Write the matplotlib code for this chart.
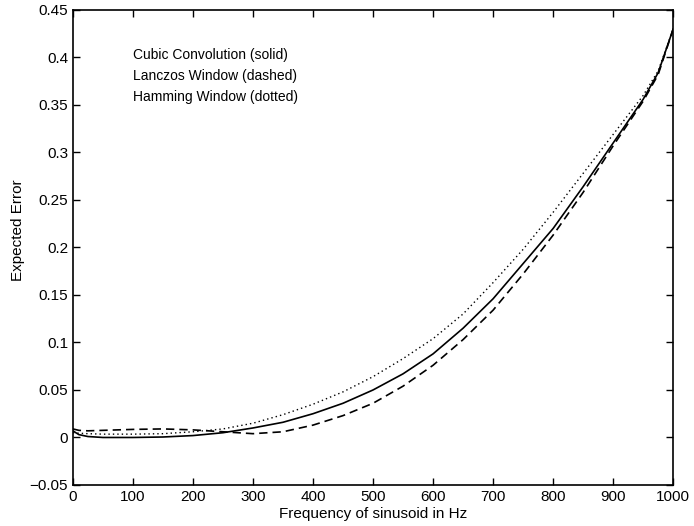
import matplotlib
matplotlib.use("Agg")
import matplotlib.pyplot as plt

plt.rcParams['font.family'] = ['Liberation Sans', 'DejaVu Sans']

freq = [0, 10, 25, 50, 100, 150, 200, 250, 300, 350, 400, 450, 500, 550, 600,
        650, 700, 750, 800, 850, 900, 950, 975, 1000]
cubic = [0.007, 0.003, 0.001, 0.0, 0.0, 0.0005, 0.002, 0.005, 0.010, 0.016, 0.025,
         0.036, 0.050, 0.067, 0.088, 0.115, 0.146, 0.183, 0.220, 0.264, 0.310,
         0.356, 0.384, 0.430]
lanczos = [0.009, 0.0075, 0.007, 0.0075, 0.0085, 0.009, 0.008, 0.006, 0.004, 0.006,
           0.013, 0.023, 0.036, 0.054, 0.076, 0.103, 0.134, 0.172, 0.213, 0.258,
           0.307, 0.354, 0.382, 0.430]
hamming = [0.005, 0.0045, 0.004, 0.0035, 0.0035, 0.004, 0.006, 0.009, 0.015, 0.024,
           0.035, 0.048, 0.064, 0.083, 0.104, 0.130, 0.163, 0.198, 0.237, 0.278,
           0.319, 0.360, 0.386, 0.430]
labels = ["Cubic Convolution (solid)", "Lanczos Window (dashed)", "Hamming Window (dotted)"]

fig = plt.figure(figsize=(6.94, 5.26), dpi=100)
ax = fig.add_axes([0.105, 0.078, 0.865, 0.903])
ax.plot(freq, cubic, color='black', lw=1.2, linestyle='-')
ax.plot(freq, lanczos, color='black', lw=1.2, linestyle=(0, (5, 3)))
ax.plot(freq, hamming, color='black', lw=1.0, linestyle=(0, (1, 2.2)))

ax.set_xlim(0, 1000)
ax.set_ylim(-0.05, 0.45)
ax.set_xticks(range(0, 1001, 100))
yt = [-0.05, 0, 0.05, 0.1, 0.15, 0.2, 0.25, 0.3, 0.35, 0.4, 0.45]
ax.set_yticks(yt)
ax.set_yticklabels(['\u22120.05', '0', '0.05', '0.1', '0.15', '0.2', '0.25', '0.3', '0.35', '0.4', '0.45'])
ax.tick_params(direction='in', top=True, right=True, length=5, width=1, labelsize=11)
for s in ax.spines.values():
    s.set_linewidth(1.2)

ax.set_xlabel("Frequency of sinusoid in Hz", fontsize=11, labelpad=2)
ax.set_ylabel("Expected Error", fontsize=11)
ax.yaxis.set_label_coords(-0.08, 0.537)

for lab, yv in zip(labels, [0.403, 0.380, 0.358]):
    ax.text(100, yv, lab, fontsize=10, ha='left', va='center')

fig.savefig("out.png", dpi=100)
